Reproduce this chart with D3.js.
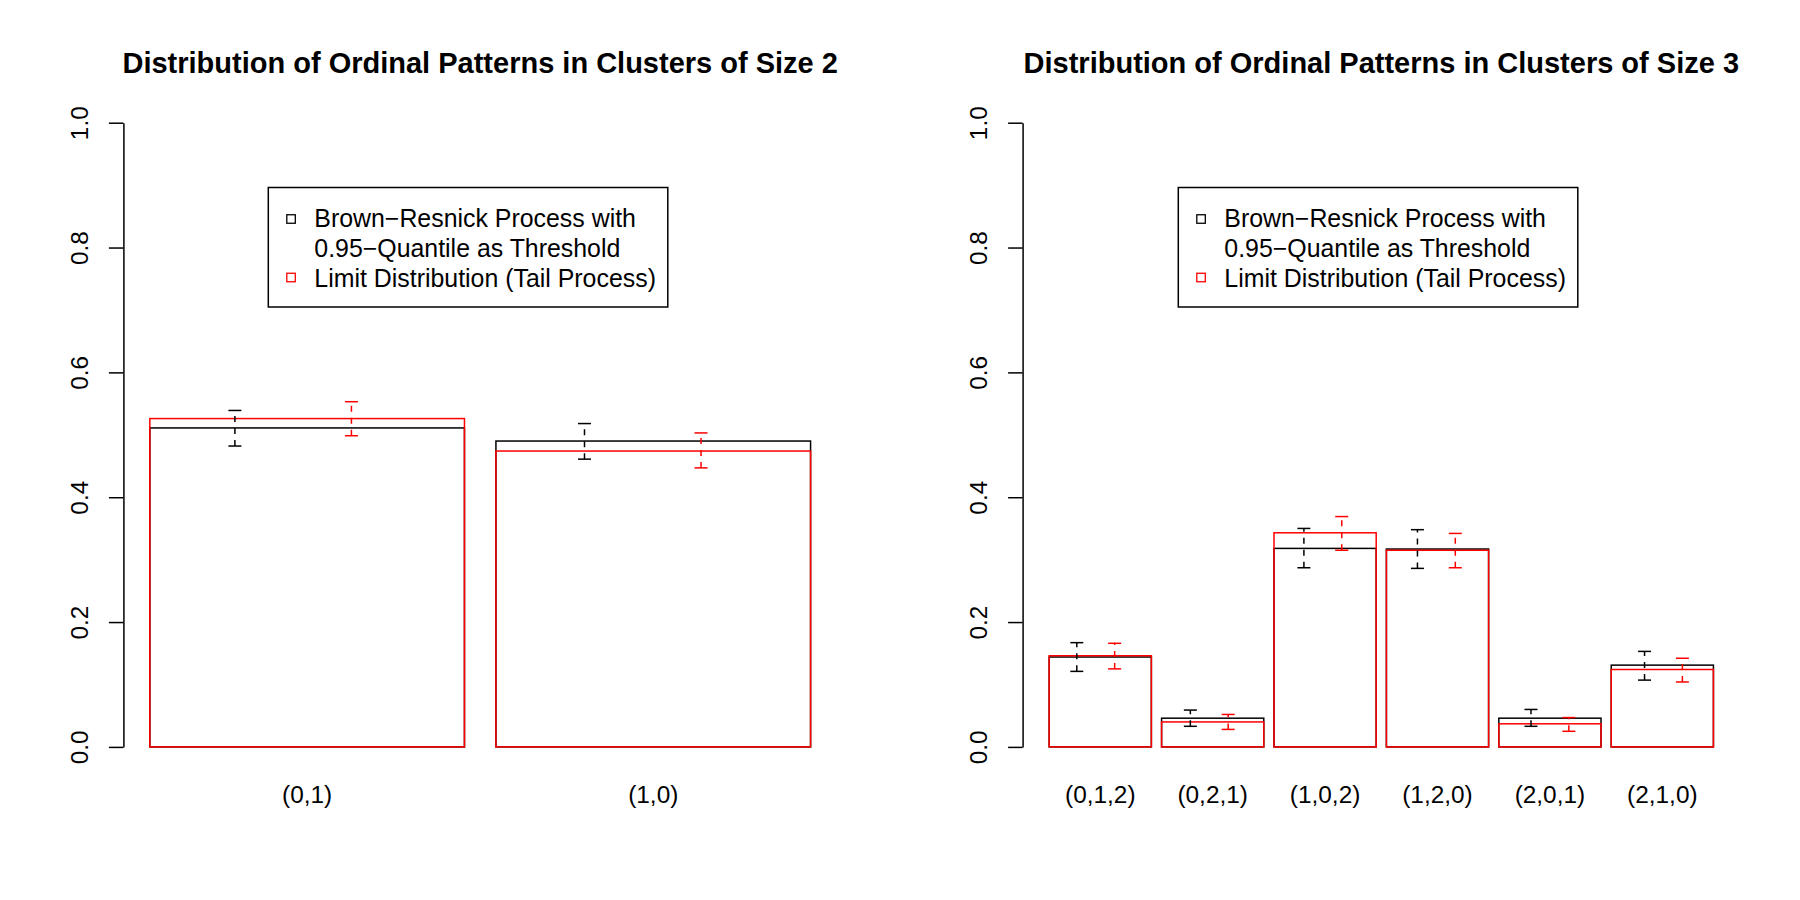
<!DOCTYPE html>
<html>
<head>
<meta charset="utf-8">
<script src="https://cdn.jsdelivr.net/npm/d3@7"></script>
<style>
  body { margin: 0; background: #fff; }
  text { font-family: "Liberation Sans", Arial, Helvetica, sans-serif; }
</style>
</head>
<body>
<script>
// cluster size 2
var cats2 = ["(0,1)", "(1,0)"];
var brown2 = [0.511, 0.490];
var brown2Lo = [0.482, 0.461];
var brown2Hi = [0.539, 0.518];
var limit2 = [0.526, 0.474];
var limit2Lo = [0.4985, 0.447];
var limit2Hi = [0.553, 0.503];

// cluster size 3
var cats3 = ["(0,1,2)", "(0,2,1)", "(1,0,2)", "(1,2,0)", "(2,0,1)", "(2,1,0)"];
var brown3 = [0.144, 0.046, 0.318, 0.317, 0.046, 0.131];
var brown3Lo = [0.121, 0.033, 0.287, 0.286, 0.033, 0.107];
var brown3Hi = [0.167, 0.059, 0.350, 0.348, 0.060, 0.153];
var limit3 = [0.146, 0.040, 0.343, 0.315, 0.037, 0.124];
var limit3Lo = [0.125, 0.028, 0.315, 0.287, 0.025, 0.104];
var limit3Hi = [0.166, 0.052, 0.369, 0.342, 0.047, 0.142];

var yTicks = [0, 0.2, 0.4, 0.6, 0.8, 1.0];
var titles = ["Distribution of Ordinal Patterns in Clusters of Size 2",
              "Distribution of Ordinal Patterns in Clusters of Size 3"];
var legendLines = ["Brown\u2212Resnick Process with", "0.95\u2212Quantile as Threshold",
                   "Limit Distribution (Tail Process)"];

var W = 1800, H = 900;
var svg = d3.select("body").append("svg")
            .attr("width", W)
            .attr("height", H);

var y = d3.scaleLinear().domain([0, 1]).range([746.9, 122.7]);

var panels = [
  {left: 123.4, right: 837, legendX: 268.3, title: titles[0], cats: cats2,
   series: [[brown2, brown2Lo, brown2Hi], [limit2, limit2Lo, limit2Hi]]},
  {left: 1022.6, right: 1740, legendX: 1178.3, title: titles[1], cats: cats3,
   series: [[brown3, brown3Lo, brown3Hi], [limit3, limit3Lo, limit3Hi]]}
];
var colors = ["#000000", "#ff0000"];
var space = 0.1, fs = 24.4;

panels.forEach(function(p){
  var n = p.cats.length;
  var lo = space, hi = n * (1 + space);
  var ext = (hi - lo) * 0.04;
  // R style user coordinates for bars
  var x = d3.scaleLinear().domain([lo - ext, hi + ext]).range([p.left, p.right]);
  var g = svg.append("g");

  g.append("text")
   .attr("x", (p.left + p.right) / 2)
   .attr("y", 72.5)
   .attr("text-anchor", "middle")
   .style("font-weight", "bold")
   .style("font-size", "29px")
   .text(p.title);

  // y axis
  var ax = g.append("g")
            .attr("transform", "translate(" + p.left + ",0)")
            .call(d3.axisLeft(y).tickValues(yTicks).tickSize(14.5).tickSizeOuter(0)
                    .tickFormat(d3.format(".1f")));
  ax.select(".domain").attr("stroke-width", 1.5);
  ax.selectAll(".tick line").attr("stroke-width", 1.5);
  ax.selectAll(".tick text")
    .attr("x", 0).attr("y", -35.5).attr("dy", 0)
    .attr("transform", "rotate(-90)")
    .attr("text-anchor", "middle")
    .attr("fill", "#000")
    .style("font-size", fs + "px")
    .style("font-family", "Liberation Sans, Arial, sans-serif");

  // bars: black series first, red on top
  p.series.forEach(function(s, k){
    g.selectAll(null).data(s[0]).enter().append("rect")
     .attr("x", function(d, i){ return x(space + i * (1 + space)); })
     .attr("width", function(d, i){ return x(1) - x(0); })
     .attr("y", function(d){ return y(d); })
     .attr("height", function(d){ return y(0) - y(d); })
     .attr("fill", "none")
     .attr("stroke", colors[k])
     .attr("stroke-width", 1.5);
  });

  // error bars
  p.series.forEach(function(s, k){
    s[0].forEach(function(d, i){
      var ex = x((3 * i + k + 1) / 2.7);
      var eg = g.append("g").attr("stroke", colors[k]).attr("stroke-width", 1.5);
      eg.append("line")
        .attr("x1", ex).attr("x2", ex)
        .attr("y1", y(s[1][i])).attr("y2", y(s[2][i]))
        .attr("stroke-dasharray", "6,6");
      [s[1][i], s[2][i]].forEach(function(v){
        eg.append("line")
          .attr("x1", ex - 6.5).attr("x2", ex + 6.5)
          .attr("y1", y(v)).attr("y2", y(v));
      });
    });
  });

  // category labels
  g.selectAll(null).data(p.cats).enter().append("text")
   .attr("x", function(d, i){ return x(space + i * (1 + space) + 0.5); })
   .attr("y", 803)
   .attr("text-anchor", "middle")
   .style("font-size", fs + "px")
   .text(function(d){ return d; });

  // legend
  var top = 187.5;
  var lg = g.append("g");
  lg.append("rect")
    .attr("x", p.legendX).attr("y", top)
    .attr("width", 399.5).attr("height", 119.5)
    .attr("fill", "none").attr("stroke", "#000").attr("stroke-width", 1.5);
  [[0, 31.5], [1, 90]].forEach(function(m){
    lg.append("rect")
      .attr("x", p.legendX + 18.5).attr("y", top + m[1] - 4.25)
      .attr("width", 8.5).attr("height", 8.5)
      .attr("fill", "none").attr("stroke", colors[m[0]]).attr("stroke-width", 1.3);
  });
  legendLines.forEach(function(t, j){
    lg.append("text")
      .attr("x", p.legendX + 46)
      .attr("y", top + 39.4 + j * 30)
      .style("font-size", "24.9px")
      .text(t);
  });
});
</script>
</body>
</html>
